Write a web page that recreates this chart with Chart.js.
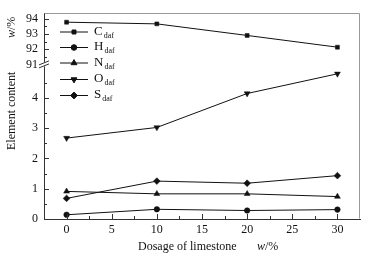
<!DOCTYPE html>
<html>
<head>
<script src="https://cdn.jsdelivr.net/npm/chart.js@4.4.0/dist/chart.umd.min.js"></script>
<style>
  body { margin: 0; background: #fff; }
  #wrap { width: 366px; height: 258px; }
</style>
</head>
<body>
<div id="wrap"><canvas id="myChart" width="366" height="258"></canvas></div>
<script>
// data
const dosage = [0, 10, 20, 30];
const carbon = [93.77, 93.66, 92.90, 92.13];
const hydrogen = [0.14, 0.32, 0.28, 0.31];
const nitrogen = [0.91, 0.83, 0.83, 0.74];
const oxygen = [2.67, 3.02, 4.14, 4.79];
const sulfur = [0.68, 1.25, 1.18, 1.43];

const xTicks = [0, 5, 10, 15, 20, 25, 30];
const lowTicks = [0, 1, 2, 3, 4];
const highTicks = [91, 92, 93, 94];

const seriesNames = ['C', 'H', 'N', 'O', 'S'];
const seriesValues = [carbon, hydrogen, nitrogen, oxygen, sulfur];
const seriesAxis = ['yHigh', 'yLow', 'yLow', 'yLow', 'yLow'];
const markers = [
  { style: 'rect', rot: 0, r: 2.8 },
  { style: 'circle', rot: 0, r: 2.8 },
  { style: 'triangle', rot: 0, r: 3.4 },
  { style: 'triangle', rot: 180, r: 3.4 },
  { style: 'rectRot', rot: 0, r: 3.4 }
];

const serif = '"Liberation Serif", "DejaVu Serif", serif';
const axisColor = '#333';

const datasets = seriesNames.map(function (n, i) {
  return {
    label: n + 'daf',
    data: dosage.map(function (d, j) { return { x: d, y: seriesValues[i][j] }; }),
    yAxisID: seriesAxis[i],
    borderColor: '#111',
    backgroundColor: '#111',
    borderWidth: 1,
    pointStyle: markers[i].style,
    pointRotation: markers[i].rot,
    pointRadius: markers[i].r,
    pointBorderWidth: 0.5,
    tension: 0
  };
});

// tick marks (inward), frame, break, legend, titles
const decor = {
  id: 'decor',
  afterDraw(chart) {
    const ctx = chart.ctx;
    const a = chart.chartArea;
    const xs = chart.scales.x, lo = chart.scales.yLow, hi = chart.scales.yHigh;
    ctx.save();
    // frame top/right
    ctx.strokeStyle = '#999';
    ctx.lineWidth = 1;
    ctx.beginPath();
    ctx.moveTo(Math.round(a.left) + 0.5, Math.round(a.top) + 0.5);
    ctx.lineTo(Math.round(a.right) - 0.5, Math.round(a.top) + 0.5);
    ctx.lineTo(Math.round(a.right) - 0.5, Math.round(a.bottom) - 0.5);
    ctx.stroke();

    ctx.strokeStyle = axisColor;
    ctx.beginPath();
    // x ticks
    for (let v = 0; v <= 30; v += 2.5) {
      const px = Math.round(xs.getPixelForValue(v)) + 0.5;
      const len = (v % 5 === 0) ? 5 : 3;
      ctx.moveTo(px, a.bottom);
      ctx.lineTo(px, a.bottom - len);
    }
    // low y ticks
    for (let v = 0; v <= 4.5; v += 0.5) {
      const py = Math.round(lo.getPixelForValue(v)) + 0.5;
      const len = (v % 1 === 0) ? 5 : 3;
      ctx.moveTo(a.left, py);
      ctx.lineTo(a.left + len, py);
    }
    // high y ticks
    for (let v = 91.5; v <= 94; v += 0.5) {
      const py = Math.round(hi.getPixelForValue(v)) + 0.5;
      const len = (v % 1 === 0) ? 5 : 3;
      ctx.moveTo(a.left, py);
      ctx.lineTo(a.left + len, py);
    }
    ctx.stroke();

    // axis break mark
    const by = hi.bottom;
    ctx.fillStyle = '#fff';
    ctx.fillRect(a.left - 1, by - 2, 3, 4);
    ctx.beginPath();
    ctx.moveTo(a.left - 5, by + 0.5);
    ctx.lineTo(a.left + 5, by - 3.5);
    ctx.moveTo(a.left - 5, by + 3.5);
    ctx.lineTo(a.left + 5, by - 0.5);
    ctx.stroke();

    // legend
    const lx0 = 60, lx1 = 88, rowY = [31.5, 47, 62.5, 79, 95];
    for (let i = 0; i < seriesNames.length; i++) {
      const y = rowY[i];
      ctx.strokeStyle = '#111';
      ctx.beginPath();
      ctx.moveTo(lx0, y + 0.5);
      ctx.lineTo(lx1, y + 0.5);
      ctx.stroke();
      ctx.fillStyle = '#111';
      Chart.helpers.drawPoint(ctx, {
        pointStyle: markers[i].style,
        rotation: markers[i].rot,
        radius: markers[i].r,
        borderWidth: 0.5
      }, (lx0 + lx1) / 2, y + 0.5);
      ctx.textAlign = 'left';
      ctx.textBaseline = 'middle';
      ctx.font = '13px ' + serif;
      ctx.fillText(seriesNames[i], 94, y);
      const w = ctx.measureText(seriesNames[i]).width;
      ctx.font = '8px ' + serif;
      ctx.fillText('daf', 94 + w + 1, y + 4);
    }

    // x title
    ctx.fillStyle = '#111';
    ctx.textBaseline = 'middle';
    ctx.textAlign = 'left';
    ctx.font = '12px ' + serif;
    ctx.fillText('Dosage of limestone', 138, 247);
    ctx.font = 'italic 12px ' + serif;
    ctx.fillText('w', 257, 247);
    let ww = ctx.measureText('w').width;
    ctx.font = '12px ' + serif;
    ctx.fillText('/%', 257 + ww, 247);

    // y title
    ctx.translate(12, 150);
    ctx.rotate(-Math.PI / 2);
    ctx.font = '12px ' + serif;
    ctx.fillText('Element content', 0, 0);
    ctx.font = 'italic 12px ' + serif;
    ctx.fillText('w', 112, 0);
    ww = ctx.measureText('w').width;
    ctx.font = '12px ' + serif;
    ctx.fillText('/%', 112 + ww, 0);
    ctx.restore();
  }
};

function fixWidth(scale) { scale.width = 44; }

const tickFont = { family: serif, size: 12 };

new Chart(document.getElementById('myChart').getContext('2d'), {
  type: 'line',
  data: { datasets: datasets },
  options: {
    responsive: false,
    animation: false,
    layout: { padding: { left: 0, right: 6, top: 10, bottom: 0 } },
    plugins: { legend: { display: false }, tooltip: { enabled: false } },
    scales: {
      x: {
        type: 'linear',
        min: -2.5,
        max: 32.5,
        afterBuildTicks: function (s) { s.ticks = xTicks.map(function (v) { return { value: v }; }); },
        afterFit: function (s) { s.height = 39; },
        grid: { display: false, drawTicks: false },
        border: { display: true, color: axisColor, width: 1 },
        ticks: { padding: 4, autoSkip: false, maxRotation: 0, color: '#111', font: tickFont }
      },
      yLow: {
        type: 'linear',
        position: 'left',
        stack: 'y',
        stackWeight: 157,
        min: 0,
        max: 5.1,
        afterBuildTicks: function (s) { s.ticks = lowTicks.map(function (v) { return { value: v }; }); },
        afterFit: fixWidth,
        grid: { display: false, drawTicks: false },
        border: { display: true, color: axisColor, width: 1 },
        ticks: { padding: 6, autoSkip: false, color: '#111', font: tickFont }
      },
      yHigh: {
        type: 'linear',
        position: 'left',
        stack: 'y',
        stackWeight: 52,
        min: 91,
        max: 94.36,
        afterBuildTicks: function (s) { s.ticks = highTicks.map(function (v) { return { value: v }; }); },
        afterFit: fixWidth,
        grid: { display: false, drawTicks: false },
        border: { display: true, color: axisColor, width: 1 },
        ticks: { padding: 6, autoSkip: false, color: '#111', font: tickFont }
      }
    }
  },
  plugins: [decor]
});
</script>
</body>
</html>
